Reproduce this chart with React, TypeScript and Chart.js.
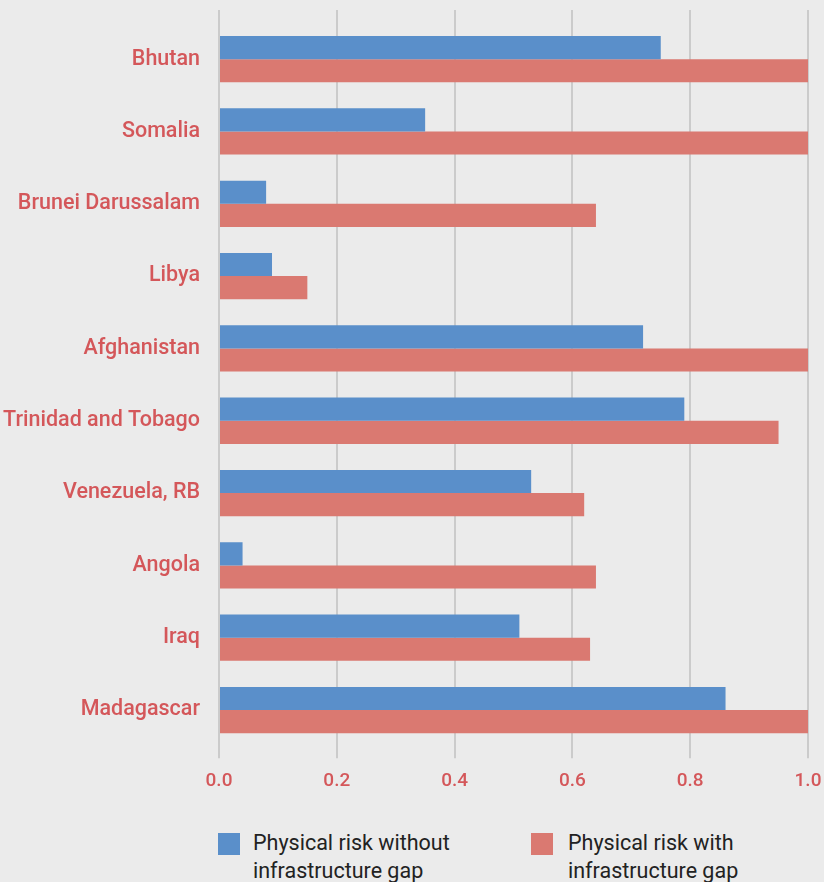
import React, { useEffect, useRef } from "react";
import { Chart, registerables } from "chart.js";

Chart.register(...registerables);

const countries = [
  "Bhutan",
  "Somalia",
  "Brunei Darussalam",
  "Libya",
  "Afghanistan",
  "Trinidad and Tobago",
  "Venezuela, RB",
  "Angola",
  "Iraq",
  "Madagascar",
];
const withoutGap = [0.75, 0.35, 0.08, 0.09, 0.72, 0.79, 0.53, 0.04, 0.51, 0.86];
const withGap = [1.0, 1.0, 0.64, 0.15, 1.0, 0.95, 0.62, 0.64, 0.63, 1.0];
const seriesNames = [
  ["Physical risk without", "infrastructure gap"],
  ["Physical risk with", "infrastructure gap"],
];
const xTicks = [0, 0.2, 0.4, 0.6, 0.8, 1.0];

const BLUE = "#5a8fca";
const RED = "#da7971";
const LABEL_RED = "#d4575a";
const GRID = "#cbcbcb";
const BG = "#ebebeb";
const FONT = "Roboto, 'Noto Sans', sans-serif";

const zeroPad = (s: any) => {
  s.paddingLeft = 0;
  s.paddingRight = 0;
  s.paddingTop = 0;
  s.paddingBottom = 0;
};

export default function App() {
  const canvasRef = useRef<HTMLCanvasElement | null>(null);

  useEffect(() => {
    document.body.style.margin = "0";
    document.body.style.background = BG;
    const canvas = canvasRef.current;
    if (!canvas) return;
    const chart = new Chart(canvas, {
      type: "bar",
      data: {
        labels: countries,
        datasets: [
          {
            label: seriesNames[0].join(" "),
            data: withoutGap,
            backgroundColor: BLUE,
            xAxisID: "x",
          },
          {
            label: seriesNames[1].join(" "),
            data: withGap,
            backgroundColor: RED,
            xAxisID: "x",
          },
        ],
      },
      options: {
        indexAxis: "y",
        animation: false,
        responsive: true,
        maintainAspectRatio: false,
        layout: { padding: { top: 10, right: 16, left: 0, bottom: 0 } },
        datasets: {
          bar: { categoryPercentage: 0.64, barPercentage: 1.0 },
        },
        plugins: {
          legend: { display: false },
          tooltip: { enabled: false },
        },
        scales: {
          x: {
            type: "linear",
            position: "bottom",
            min: 0,
            max: 1,
            afterBuildTicks: (s: any) => {
              s.ticks = xTicks.map((v) => ({ value: v }));
            },
            afterFit: zeroPad,
            ticks: {
              color: LABEL_RED,
              font: { family: FONT, size: 19, weight: "500" },
              padding: 12,
              callback: (v: any) => Number(v).toFixed(1),
            },
            grid: {
              color: GRID,
              lineWidth: 2,
              drawTicks: true,
              tickLength: 12,
            },
            border: { display: false },
          },
          x2: {
            type: "linear",
            position: "top",
            min: 0,
            max: 1,
            afterBuildTicks: (s: any) => {
              s.ticks = xTicks.map((v) => ({ value: v }));
            },
            afterFit: zeroPad,
            ticks: { display: false },
            grid: {
              color: GRID,
              lineWidth: 2,
              drawOnChartArea: false,
              drawTicks: true,
              tickLength: 13,
            },
            border: { display: false },
          },
          y: {
            type: "category",
            afterFit: (s: any) => {
              s.width = 219;
              zeroPad(s);
            },
            ticks: {
              color: LABEL_RED,
              font: { family: FONT, size: 21.5, weight: "500" },
              padding: 19,
            },
            grid: { display: false, drawTicks: false },
            border: { display: false },
          },
        },
      },
    });
    return () => chart.destroy();
  }, []);

  const legendText: React.CSSProperties = {
    position: "absolute",
    fontFamily: FONT,
    fontSize: 21.5,
    lineHeight: "28px",
    color: "#222",
  };
  const box = (color: string, left: number): React.CSSProperties => ({
    position: "absolute",
    left,
    top: 833,
    width: 22,
    height: 22,
    background: color,
  });

  return (
    <div style={{ position: "relative", width: 824, height: 882, background: BG, overflow: "hidden" }}>
      <div style={{ position: "absolute", left: 0, top: 0, width: 824, height: 805 }}>
        <canvas ref={canvasRef} />
      </div>
      <div style={box(BLUE, 218)} />
      <div style={{ ...legendText, left: 253, top: 829 }}>
        {seriesNames[0][0]}
        <br />
        {seriesNames[0][1]}
      </div>
      <div style={box(RED, 531)} />
      <div style={{ ...legendText, left: 568, top: 829 }}>
        {seriesNames[1][0]}
        <br />
        {seriesNames[1][1]}
      </div>
    </div>
  );
}
